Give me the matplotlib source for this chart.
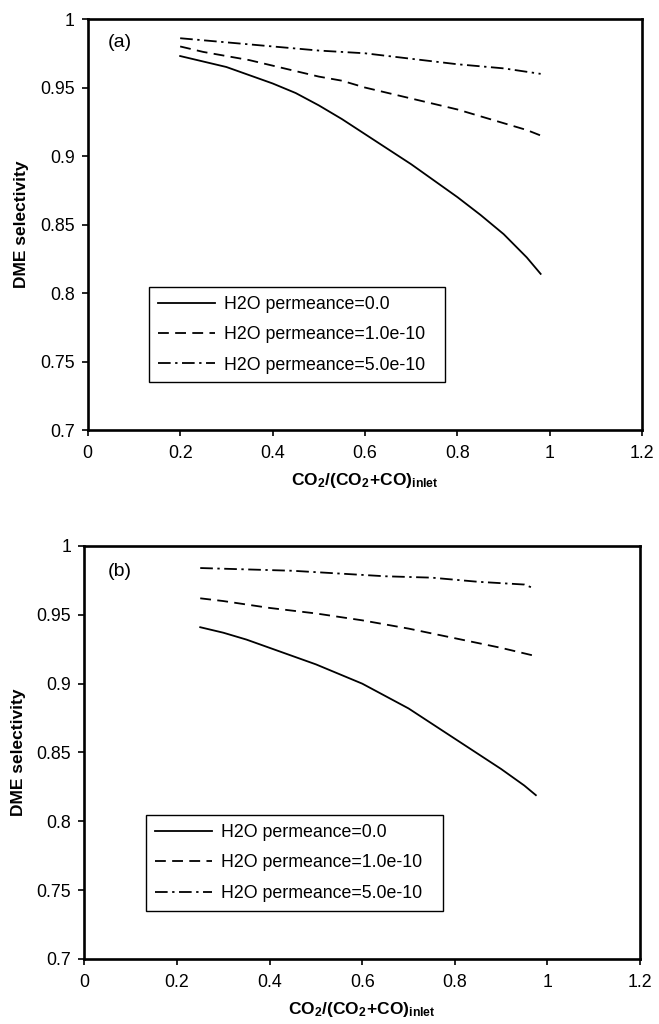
import matplotlib
matplotlib.use("Agg")
import matplotlib.pyplot as plt

plt.rcParams['font.family'] = ['Liberation Sans', 'DejaVu Sans']
plt.rcParams['mathtext.fontset'] = 'custom'
plt.rcParams['mathtext.bf'] = 'Liberation Sans:bold'
plt.rcParams['mathtext.rm'] = 'Liberation Sans:bold'

# panel (a)
xa_solid = [0.2, 0.25, 0.3, 0.35, 0.4, 0.45, 0.5, 0.55, 0.6, 0.65, 0.7, 0.75, 0.8, 0.85, 0.9, 0.95, 0.98]
ya_solid = [0.973, 0.969, 0.965, 0.959, 0.953, 0.946, 0.937, 0.927, 0.916, 0.905, 0.894, 0.882, 0.870, 0.857, 0.843, 0.826, 0.814]
xa_dash = [0.2, 0.25, 0.3, 0.35, 0.4, 0.45, 0.5, 0.55, 0.6, 0.65, 0.7, 0.75, 0.8, 0.85, 0.9, 0.95, 0.98]
ya_dash = [0.980, 0.976, 0.973, 0.970, 0.966, 0.962, 0.958, 0.955, 0.950, 0.946, 0.942, 0.938, 0.934, 0.929, 0.924, 0.919, 0.915]
xa_dd = [0.2, 0.3, 0.4, 0.5, 0.6, 0.7, 0.8, 0.9, 0.98]
ya_dd = [0.986, 0.983, 0.980, 0.977, 0.975, 0.971, 0.967, 0.964, 0.960]

# panel (b)
xb_solid = [0.25, 0.3, 0.35, 0.4, 0.45, 0.5, 0.55, 0.6, 0.65, 0.7, 0.75, 0.8, 0.85, 0.9, 0.95, 0.975]
yb_solid = [0.941, 0.937, 0.932, 0.926, 0.920, 0.914, 0.907, 0.900, 0.891, 0.882, 0.871, 0.860, 0.849, 0.838, 0.826, 0.819]
xb_dash = [0.25, 0.3, 0.4, 0.5, 0.6, 0.7, 0.8, 0.9, 0.975]
yb_dash = [0.962, 0.960, 0.955, 0.951, 0.946, 0.940, 0.933, 0.926, 0.920]
xb_dd = [0.25, 0.35, 0.45, 0.55, 0.65, 0.75, 0.85, 0.95, 0.965]
yb_dd = [0.984, 0.983, 0.982, 0.980, 0.978, 0.977, 0.974, 0.972, 0.970]

labels = ['H2O permeance=0.0', 'H2O permeance=1.0e-10', 'H2O permeance=5.0e-10']
styles = ['-', (0, (6, 3.5)), (0, (7, 2.5, 1.3, 2.5))]

fig = plt.figure(figsize=(6.59, 10.24), dpi=100)

panels = [
    ('(a)', [0.1331, 0.580, 0.8416, 0.4014], (0.058, 0.942),
     [(xa_solid, ya_solid), (xa_dash, ya_dash), (xa_dd, ya_dd)]),
    ('(b)', [0.1282, 0.0635, 0.8430, 0.4033], (0.064, 0.938),
     [(xb_solid, yb_solid), (xb_dash, yb_dash), (xb_dd, yb_dd)]),
]

for tag, pos, tagpos, series in panels:
    ax = fig.add_axes(pos)
    for (x, y), ls, lab in zip(series, styles, labels):
        ax.plot(x, y, color='black', linestyle=ls, linewidth=1.3, label=lab)
    ax.set_xlim(0, 1.2)
    ax.set_ylim(0.7, 1.0)
    ax.set_xticks([0, 0.2, 0.4, 0.6, 0.8, 1.0, 1.2])
    ax.set_xticklabels(['0', '0.2', '0.4', '0.6', '0.8', '1', '1.2'])
    ax.set_yticks([0.7, 0.75, 0.8, 0.85, 0.9, 0.95, 1.0])
    ax.set_yticklabels(['0.7', '0.75', '0.8', '0.85', '0.9', '0.95', '1'])
    ax.tick_params(axis='both', direction='out', length=4.5, width=1.2, labelsize=12.8)
    ax.tick_params(axis='x', pad=6)
    ax.tick_params(axis='y', pad=5)
    for sp in ax.spines.values():
        sp.set_linewidth(1.9)
    ax.set_ylabel('DME selectivity', fontsize=12.5, fontweight='bold', labelpad=8)
    ax.set_xlabel(r'$\mathbf{CO_2/(CO_2\!+\!CO)_{inlet}}$', fontsize=12.5, labelpad=7)
    ax.text(tagpos[0], tagpos[1], tag, transform=ax.transAxes, fontsize=14,
            ha='center', va='center')
    leg = ax.legend(loc='upper left', bbox_to_anchor=(0.1105, 0.0, 0.5345, 0.348),
                    mode='expand', fontsize=12.8, handlelength=3.2, handletextpad=0.5,
                    labelspacing=0.75, borderpad=0.5, fancybox=False,
                    edgecolor='black', framealpha=1, borderaxespad=0)
    leg.get_frame().set_linewidth(1.0)

fig.savefig('out.png', dpi=100)
